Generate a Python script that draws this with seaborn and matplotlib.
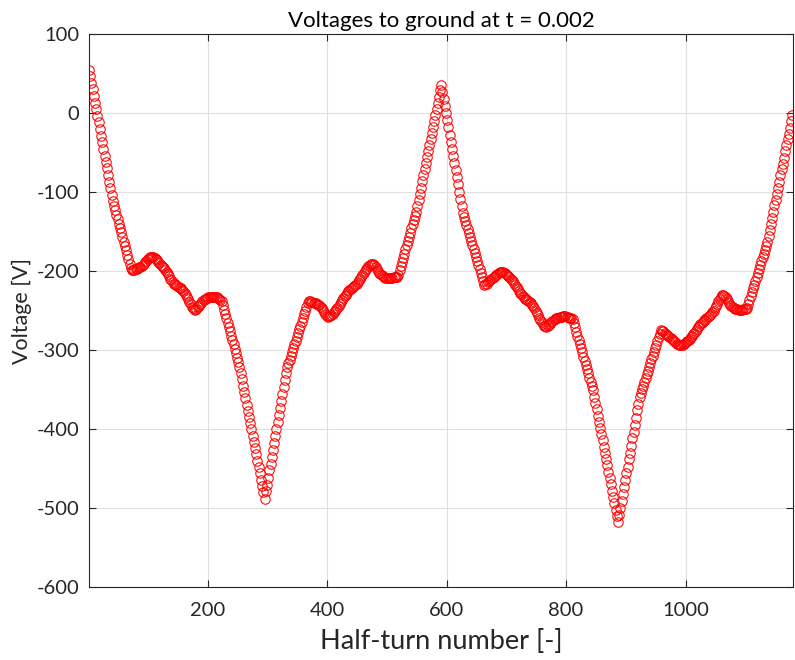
import numpy as np
import pandas as pd
import matplotlib
matplotlib.use("Agg")
import matplotlib.pyplot as plt
import seaborn as sns

# Voltage to ground per half-turn (read every 2nd half-turn: 1, 3, 5, ..., 1179)
volt_a = [55, 47, 38, 30, 22, 13, 5, -4, -12, -20, -29, -37, -45, -54, -62, -70, -79, -87, -95, -104, -112]
volt_b = [-118, -123, -129, -134, -140, -146, -151, -157, -163, -168, -174, -180, -185, -191, -196]
volt_c = [-199, -199, -198.5, -198, -197, -196, -195.5, -195, -194, -192.5, -191, -189, -187, -185, -183.5,
          -182.5, -182, -182, -182.5, -183.5, -185, -186.5, -188.5, -190, -192, -193.5, -195, -196.5, -198.5,
          -201, -203.5, -206.5, -209.5, -212, -214.5, -216, -217, -218, -219, -220, -221, -222, -223.5, -225.5,
          -228, -230.5, -233, -236, -239, -242, -245, -247, -248.5, -249, -248, -246, -244, -242, -240, -238.5,
          -237, -236, -235, -234, -233.5, -233, -232.5, -232.5, -232.5, -232.5, -233, -233.5, -234.5, -235.5,
          -236.5, -238]
volt_d = [-243.5, -249, -254.5, -260, -265.5, -271, -276.5, -282, -287.5, -293, -299, -304, -310, -315.5, -321]
volt_e = [-329, -337, -345, -353, -361, -369, -377, -385, -393, -400.5, -408.5, -416.5, -424.5, -432, -440,
          -448, -456, -464, -472, -480, -488]
volt_f = [-479, -470.5, -461.5, -452.5, -444, -435, -426, -417.5, -408.5, -400, -391, -382, -373.5, -364.5,
          -356, -347, -338, -329.5, -322]
volt_g = [-317, -312.5, -307.5, -303, -298, -293, -288.5, -283.5, -279, -274, -269, -264.5, -259.5, -255,
          -250, -245, -240.5, -238.5]
volt_h = [-238.5, -239, -239.5, -240, -240.5, -241, -241.5, -242.5, -243.5, -245, -247, -249.5, -252, -254.5,
          -256.5,
          -258, -257.5, -256.5, -255.5, -254, -252.5, -250.5, -248.5, -246.5, -244.5, -242, -239.5, -237,
          -234.5, -232, -230, -227.5, -225.5, -224, -222.5, -221.5, -220, -219, -217.5, -216, -214, -212, -210,
          -207.5, -205, -202.5, -200, -198, -196, -194, -192.5, -191.5, -191,
          -191.5, -193, -195, -197.5, -200, -202, -204, -205.5, -206.5, -207.5, -208.5, -209, -209, -209, -209,
          -208.5, -208.5, -208, -207.5, -207, -207]
volt_i = [-204.5, -199, -194, -188.5, -183, -178, -172.5, -167.5, -162, -157, -151.5, -146, -141, -135.5,
          -130, -125]
volt_j = [-117.5, -109.5, -102, -94.5, -86.5, -79, -71.5, -63.5, -56, -48.5, -40.5, -33, -25.5, -17.5, -10,
          -2.5, 5.5, 13, 20.5, 28.5, 36]
volt_k = [27, 18, 9, 0, -9, -18, -27.5, -36.5, -45.5, -54.5, -63.5, -72.5, -81.5, -90.5, -99.5, -108.5,
          -118, -127]
volt_l = [-132, -137, -142, -147, -152, -157.5, -162.5, -167.5, -172.5, -177.5, -182.5, -187.5, -192.5,
          -198, -203, -208, -213, -217.5]
volt_m = [-217, -216, -214.5, -213, -211.5, -210, -209, -207.5, -206, -204.5, -203.5, -202.5, -201.5, -201,
          -201, -201, -202, -203.5, -205, -206.5, -208, -209.5, -211, -213, -215, -217.5, -220, -222.5, -225,
          -227.5, -229.5, -231.5, -233.5, -235, -236, -237, -238, -239.5, -241, -242.5, -244.5, -247, -250,
          -253, -256, -259, -262, -265, -267.5, -269, -270, -270.5, -270, -268.5, -266.5, -264.5, -263,
          -261.5, -260.5, -260, -259.5, -259, -258.5, -258, -258, -257.5, -257.5, -257.5, -258, -258.5, -259,
          -259.5, -260, -261]
volt_n = [-266, -271.5, -277, -282, -287.5, -292.5, -298, -303, -308.5, -314, -319, -324.5, -329.5, -335,
          -340, -345.5, -351]
volt_o = [-359, -367, -375, -383, -391, -398.5, -406.5, -414.5, -422.5, -430.5, -438.5, -446, -454, -462,
          -470, -478, -486, -494, -502, -510, -518]
volt_p = [-509, -500.5, -491.5, -482.5, -474, -465, -456, -447.5, -438.5, -430, -421, -412, -403.5, -394.5,
          -385.5, -376.5, -368, -359]
volt_q = [-354.5, -349.5, -345, -340.5, -335.5, -331, -326.5, -321.5, -317, -312, -307.5, -303, -298,
          -293.5, -289, -284, -279.5, -275]
volt_r = [-275.5, -276.5, -278, -279.5, -281, -282, -283, -284.5, -286, -287.5, -289, -290.5, -292, -293,
          -293.5, -294, -294, -293.5, -292.5, -291.5, -290, -289, -287.5, -286, -284, -282, -280, -278, -276,
          -273.5, -271.5, -269.5, -267.5, -265.5, -264, -262.5, -261.5, -260, -258.5, -257, -255.5, -254,
          -252, -250, -247, -244.5, -241.5, -238.5, -235.5, -233, -231, -230.5, -231.5, -233.5, -236, -238.5,
          -240.5, -242.5, -244, -245.5, -246.5, -247.5, -248, -248.5, -249, -249, -249, -249, -248.5, -248,
          -247.5, -247]
volt_s = [-242, -237, -232, -227, -222, -217.5, -212.5, -207.5, -202.5, -197.5, -192.5, -187.5, -182.5,
          -178, -173, -168, -163]
volt_t = [-155.5, -148, -140, -132.5, -125, -117, -109.5, -102, -94.5, -87, -79, -71.5, -64, -56.5, -48.5,
          -41, -33.5, -26, -18.5, -10.5, -3]

voltage = (volt_a + volt_b + volt_c + volt_d + volt_e + volt_f + volt_g + volt_h + volt_i + volt_j +
           volt_k + volt_l + volt_m + volt_n + volt_o + volt_p + volt_q + volt_r + volt_s + volt_t)
half_turn = list(range(1, 2 * len(voltage), 2))

x_ticks = [200, 400, 600, 800, 1000]
y_ticks = [-600, -500, -400, -300, -200, -100, 0, 100]

title_text = "Voltages to ground at t = 0.002"
x_label = "Half-turn number [-]"
y_label = "Voltage [V]"

sns.set_theme(style="white")
plt.rcParams['font.family'] = ['Lato', 'DejaVu Sans']

axis_color = "#262626"
fig = plt.figure(figsize=(7.95, 6.6), dpi=100)
ax = fig.add_axes([89 / 795, 73 / 660, 704 / 795, 553 / 660])

df = pd.DataFrame({"half_turn": half_turn, "voltage": voltage})
sns.lineplot(data=df, x="half_turn", y="voltage", ax=ax, estimator=None, sort=False,
             color="#ff0000", linestyle="", marker="o", markersize=6.8,
             markerfacecolor="none", markeredgecolor="#ff0000", markeredgewidth=0.75)

ax.set_xlim(1, 1180)
ax.set_ylim(-600, 100)
ax.set_xticks(x_ticks)
ax.set_yticks(y_ticks)
ax.set_xticklabels([str(v) for v in x_ticks])
ax.set_yticklabels([str(v) for v in y_ticks])

ax.grid(True, color="#e0e0e0", linewidth=0.8)
ax.set_axisbelow(True)
for sp in ax.spines.values():
    sp.set_color(axis_color)
    sp.set_linewidth(0.8)
    sp.set_visible(True)

ax.tick_params(axis="both", which="both", direction="in", length=5, width=0.8,
               colors=axis_color, labelsize=14.5, top=True, right=True,
               bottom=True, left=True)
ax.tick_params(axis="x", pad=11)
ax.tick_params(axis="y", pad=7)

ax.set_xlabel(x_label, fontsize=19.5, color=axis_color, labelpad=7)
ax.set_ylabel(y_label, fontsize=15.5, color=axis_color, labelpad=3)
ax.set_title(title_text, fontsize=16, color="#000000", pad=5)

fig.savefig("out.png", dpi=100, facecolor="white")
